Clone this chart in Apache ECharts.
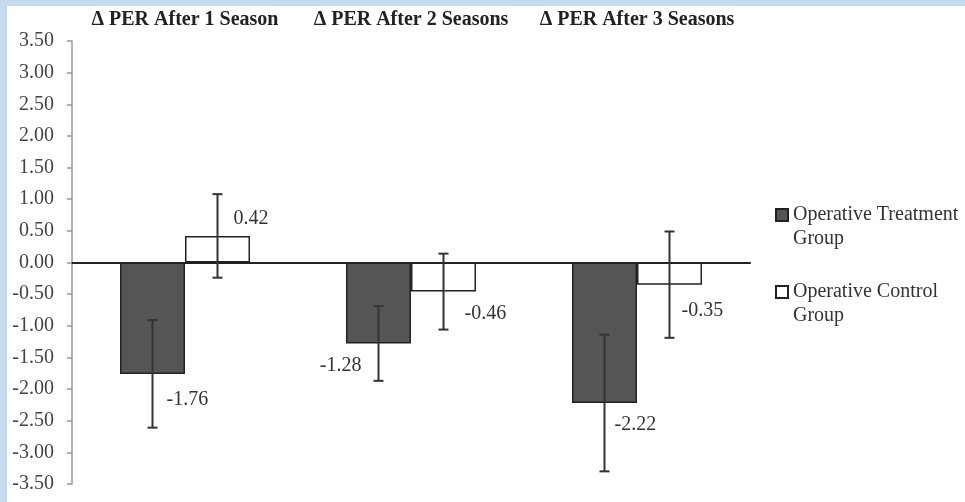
<!DOCTYPE html>
<html>
<head>
<meta charset="utf-8">
<script src="https://cdn.jsdelivr.net/npm/echarts@6/dist/echarts.min.js"></script>
<style>
  html, body { margin: 0; padding: 0; background: #c6daf0; width: 965px; height: 502px; overflow: hidden; }
  #chart { position: absolute; left: 7px; top: 6px; width: 958px; height: 496px; background: #ffffff; }
</style>
</head>
<body>
<div id="chart"></div>
<script>
// ---- data ----
const categories = ['\u0394 PER After 1 Season', '\u0394 PER After 2 Seasons', '\u0394 PER After 3 Seasons'];
const seriesNames = ['Operative Treatment Group', 'Operative Control Group'];
const legendLines = { 'Operative Treatment Group': ['Operative Treatment', 'Group'], 'Operative Control Group': ['Operative Control', 'Group'] };
const treatmentValues = [-1.76, -1.28, -2.22];
const controlValues = [0.42, -0.46, -0.35];
const treatmentErrors = [0.85, 0.59, 1.08];
const controlErrors = [0.66, 0.60, 0.84];
const yTicks = { min: -3.5, max: 3.5, interval: 0.5 };

// ---- style (label placement offsets in px, relative to bar center / bar end) ----
const BAR_W = 65;
const treatmentLabelStyle = [[14, 26, 'left'], [-17, 22, 'right'], [10, 22, 'left']];
const controlLabelStyle = [[16, -17, 'left'], [21, 22, 'left'], [12, 26, 'left']];
const FONT = '"Liberation Serif", "Times New Roman", serif';
const FS = 20;

const chart = echarts.init(document.getElementById('chart'), null, { renderer: 'canvas' });

function errorSeries(name, values, errors, offsetSign, labelStyle) {
  return {
    type: 'custom',
    name: name + '_err',
    xAxisIndex: 0,
    yAxisIndex: 0,
    z: 10,
    silent: true,
    data: values.map((v, i) => [i, v, errors[i]]),
    encode: { x: 0, y: 1 },
    renderItem: function (params, api) {
      const i = api.value(0), v = api.value(1), e = api.value(2);
      const c = api.coord([i, v]);
      const x = c[0] + offsetSign * BAR_W / 2;
      const yTop = api.coord([i, v + e])[1];
      const yBot = api.coord([i, v - e])[1];
      const cap = 5;
      const ls = { stroke: '#333', lineWidth: 2 };
      const ld = labelStyle[params.dataIndex];
      return {
        type: 'group',
        children: [
          { type: 'line', shape: { x1: x, y1: yTop, x2: x, y2: yBot }, style: ls },
          { type: 'line', shape: { x1: x - cap, y1: yTop, x2: x + cap, y2: yTop }, style: ls },
          { type: 'line', shape: { x1: x - cap, y1: yBot, x2: x + cap, y2: yBot }, style: ls },
          { type: 'text', style: {
              text: v.toFixed(2), x: x + ld[0], y: c[1] + ld[1],
              align: ld[2], verticalAlign: 'middle',
              font: FS + 'px ' + FONT, fill: '#333'
            } }
        ]
      };
    }
  };
}

const option = {
  animation: false,
  backgroundColor: '#ffffff',
  grid: { left: 65, right: 215, top: 35, bottom: 18, containLabel: false },
  legend: {
    orient: 'vertical',
    left: 763,
    top: 168,
    icon: 'rect',
    itemWidth: 12,
    itemHeight: 12,
    itemGap: 5,
    data: seriesNames,
    formatter: name => '\n' + legendLines[name].join('\n'),
    textStyle: { fontFamily: FONT, fontSize: FS, color: '#333', lineHeight: 24 }
  },
  xAxis: [
    {
      type: 'category',
      data: categories,
      axisLine: { show: true, onZero: true, lineStyle: { color: '#222', width: 2 } },
      axisTick: { show: false },
      axisLabel: { show: false }
    },
    {
      type: 'category',
      data: categories,
      position: 'top',
      axisLine: { show: false, onZero: false },
      axisTick: { show: false },
      axisLabel: { show: true, interval: 0, hideOverlap: false, margin: 11, fontFamily: FONT, fontWeight: 'bold', fontSize: FS, color: '#222' }
    }
  ],
  yAxis: {
    type: 'value',
    min: yTicks.min,
    max: yTicks.max,
    interval: yTicks.interval,
    axisLine: { show: true, lineStyle: { color: '#999', width: 1.5 } },
    axisTick: { show: true, inside: false, length: 5, lineStyle: { color: '#999', width: 1.5 } },
    splitLine: { show: false },
    axisLabel: { margin: 18, fontFamily: FONT, fontSize: FS, color: '#444', formatter: v => v.toFixed(2) }
  },
  series: [
    {
      name: seriesNames[0], type: 'bar', xAxisIndex: 0, barWidth: BAR_W, barGap: '0%',
      data: treatmentValues,
      itemStyle: { color: '#555555', borderColor: '#222', borderWidth: 1.5 }
    },
    {
      name: seriesNames[1], type: 'bar', xAxisIndex: 0, barWidth: BAR_W, barGap: '0%',
      data: controlValues,
      itemStyle: { color: '#ffffff', borderColor: '#222', borderWidth: 1.5 }
    },
    errorSeries('t', treatmentValues, treatmentErrors, -1, treatmentLabelStyle),
    errorSeries('c', controlValues, controlErrors, 1, controlLabelStyle)
  ]
};
chart.setOption(option);
</script>
</body>
</html>
